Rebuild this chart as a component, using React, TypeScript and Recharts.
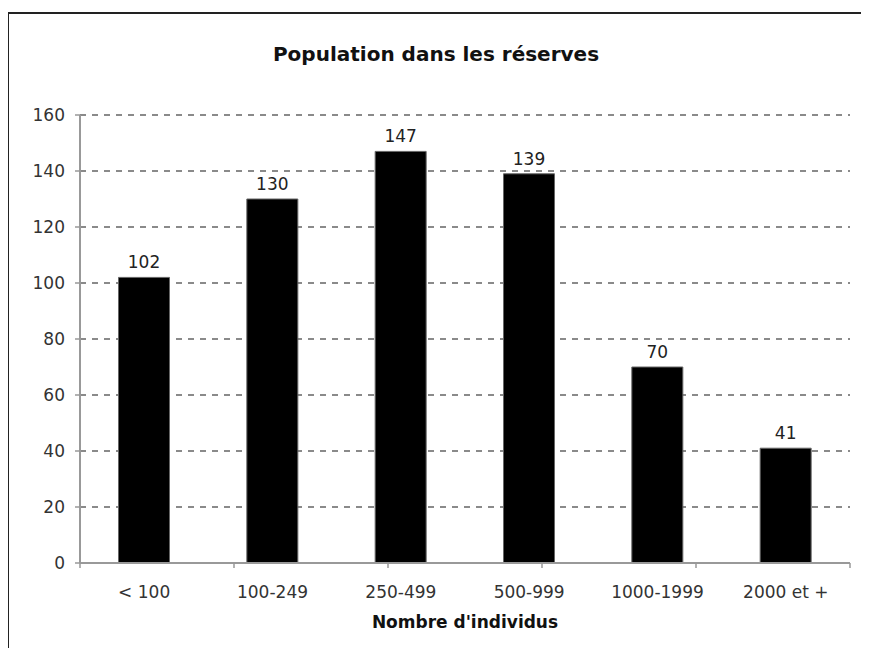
import React from 'react';
import { BarChart, Bar, XAxis, YAxis, CartesianGrid, LabelList } from 'recharts';

const categories = ['< 100', '100-249', '250-499', '500-999', '1000-1999', '2000 et +'];
const populations = [102, 130, 147, 139, 70, 41];
const yTicks = [0, 20, 40, 60, 80, 100, 120, 140, 160];
const edgeTicks = [0, 1, 2, 3, 4, 5, 6];

const data = categories.map((name, i) => ({ name, value: populations[i] }));

const font = '"DejaVu Sans", Verdana, sans-serif';

const NoLabel = () => <g />;

export default function App() {
  return (
    <div style={{ position: 'relative', width: 869, height: 656, margin: -8, overflow: 'hidden', background: '#fff', fontFamily: font }}>
      <div style={{ position: 'absolute', left: 7, top: 12, width: 2000, height: 2000, borderTop: '2px solid #222', borderLeft: '2px solid #222' }} />
      <div style={{ position: 'absolute', left: 0, width: 872, top: 43.5, textAlign: 'center', fontSize: 20, lineHeight: 1, fontWeight: 'bold', color: '#111' }}>
        Population dans les réserves
      </div>
      <div style={{ position: 'absolute', left: 80, width: 770, top: 613.5, textAlign: 'center', fontSize: 17, lineHeight: 1, fontWeight: 'bold', color: '#111' }}>
        Nombre d'individus
      </div>
      <div style={{ position: 'absolute', left: 0, top: 0 }}>
        <BarChart width={869} height={656} data={data} margin={{ top: 115, right: 19, left: 0, bottom: 57 }} barCategoryGap="30%">
          <CartesianGrid xAxisId="b" vertical={false} stroke="#8a8a8a" strokeWidth={2} strokeDasharray="6 6" />
          <XAxis
            xAxisId="a"
            type="number"
            domain={[0, 6]}
            ticks={edgeTicks}
            allowDataOverflow
            height={6}
            tick={NoLabel}
            tickSize={5}
            tickLine={{ stroke: '#999', strokeWidth: 1.5 }}
            axisLine={{ stroke: '#999', strokeWidth: 2 }}
          />
          <XAxis
            xAxisId="b"
            dataKey="name"
            height={30}
            tickLine={false}
            axisLine={false}
            tickMargin={11}
            interval={0}
            tick={{ fontSize: 17, fill: '#333', fontFamily: font }}
          />
          <YAxis
            width={80}
            domain={[0, 160]}
            ticks={yTicks}
            interval={0}
            tickSize={5}
            tickMargin={10}
            axisLine={{ stroke: '#999', strokeWidth: 2 }}
            tickLine={{ stroke: '#999', strokeWidth: 1.5 }}
            tick={{ fontSize: 17, fill: '#333', fontFamily: font }}
          />
          <Bar xAxisId="b" dataKey="value" fill="#000" stroke="#666" strokeWidth={1} isAnimationActive={false}>
            <LabelList dataKey="value" position="top" offset={9} style={{ fontSize: 17, fill: '#222', fontFamily: font }} />
          </Bar>
        </BarChart>
      </div>
    </div>
  );
}
